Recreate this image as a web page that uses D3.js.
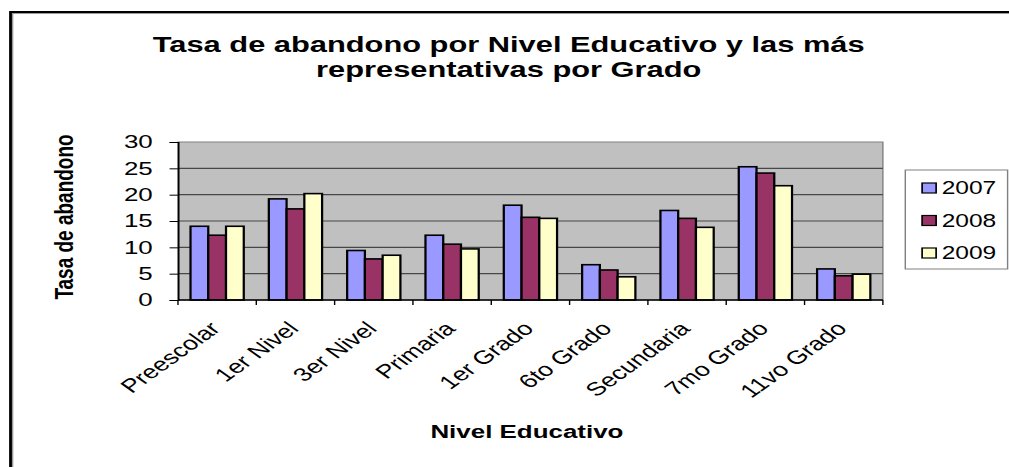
<!DOCTYPE html>
<head>
  <meta charset="utf-8">
  <script src="https://d3js.org/d3.v7.min.js"></script>
  <style>
    body { margin:0; background:#fff; overflow:hidden; }
    svg { display:block; }
    text { font-family: "Liberation Sans", Arial, sans-serif; fill:#000; }
  </style>
</head>
<body>
  <div class="bar-chart"></div>
  <script>
    // data
    const categories = ['Preescolar', '1er Nivel', '3er Nivel', 'Primaria', '1er Grado',
                        '6to Grado', 'Secundaria', '7mo Grado', '11vo Grado'];
    const years = ['2007', '2008', '2009'];
    const values2007 = [14, 19.2, 9.4, 12.3, 18, 6.7, 17, 25.3, 5.9];
    const values2008 = [12.3, 17.3, 7.8, 10.6, 15.7, 5.7, 15.5, 24.1, 4.6];
    const values2009 = [14, 20.2, 8.5, 9.7, 15.5, 4.4, 13.8, 21.7, 4.9];
    const yTicks = [0, 5, 10, 15, 20, 25, 30];
    const colors = ['#9999ff', '#993366', '#ffffcc'];

    const series = [values2007, values2008, values2009];
    const data = categories.map((c, i) => ({
      cat: c,
      vals: years.map((y, j) => ({ year: y, v: series[j][i] }))
    }));

    // the original chart is stretched sideways, so draw in a narrower box
    const W = 720, H = 467;
    const plot = { left: 127, right: 630, top: 142, bottom: 300 };

    const svg = d3.select('.bar-chart')
      .append('svg')
        .attr('width', 1009)
        .attr('height', H)
        .attr('viewBox', `0 0 ${W} ${H}`)
        .attr('preserveAspectRatio', 'none');

    // outer frame (left + top only are visible)
    svg.append('path')
      .attr('d', `M7.6,${H} V12 H${W}`)
      .attr('fill', 'none').attr('stroke', '#000').attr('stroke-width', 2.2);
    svg.append('path')
      .attr('d', `M9,${H} V13.6 H${W}`)
      .attr('fill', 'none').attr('stroke', '#999').attr('stroke-width', 1);

    // title
    const title = svg.append('text')
      .attr('text-anchor', 'middle')
      .style('font-size', '22px').style('font-weight', 'bold');
    title.append('tspan').attr('x', 363).attr('y', 52)
      .text('Tasa de abandono por Nivel Educativo y las más');
    title.append('tspan').attr('x', 363).attr('y', 77)
      .text('representativas por Grado');

    const x = d3.scaleBand()
      .domain(categories)
      .range([plot.left, plot.right]);

    const xInner = d3.scaleBand()
      .domain(years)
      .range([0, x.bandwidth() * 0.68]);
    const groupOffset = (x.bandwidth() - xInner.range()[1]) / 2;

    const y = d3.scaleLinear()
      .domain([0, 30])
      .range([plot.bottom, plot.top]);

    // plot background
    svg.append('rect')
      .attr('x', plot.left).attr('y', plot.top)
      .attr('width', plot.right - plot.left).attr('height', plot.bottom - plot.top)
      .attr('fill', '#c0c0c0')
      .attr('stroke', '#808080').attr('stroke-width', 1);

    // gridlines
    svg.append('g')
      .selectAll('line')
      .data(yTicks.filter(t => t > 0 && t < 30))
      .join('line')
        .attr('x1', plot.left).attr('x2', plot.right)
        .attr('y1', d => y(d)).attr('y2', d => y(d))
        .attr('stroke', '#474747').attr('stroke-width', 1.2);

    // bars
    svg.append('g')
      .selectAll('g')
      .data(data)
      .join('g')
        .attr('transform', d => `translate(${x(d.cat) + groupOffset},0)`)
      .selectAll('rect')
      .data(d => d.vals)
      .join('rect')
        .attr('x', d => xInner(d.year))
        .attr('y', d => y(d.v))
        .attr('width', xInner.bandwidth())
        .attr('height', d => y(0) - y(d.v))
        .attr('fill', (d, i) => colors[i])
        .attr('stroke', '#000')
        .attr('stroke-width', 1.6);

    // y axis
    const yAxis = svg.append('g')
      .attr('transform', `translate(${plot.left},0)`)
      .call(d3.axisLeft(y).tickValues(yTicks).tickSize(6).tickPadding(12));
    yAxis.select('.domain').attr('stroke', '#000').attr('stroke-width', 1.2);
    yAxis.selectAll('.tick line').attr('stroke', '#000');
    yAxis.selectAll('.tick text')
      .style('font-size', '18.5px').style('font-family', '"Liberation Sans", Arial, sans-serif');

    // x axis: ticks sit on the band edges
    const edges = categories.map(c => x(c)).concat([plot.right]);
    svg.append('line')
      .attr('x1', plot.left).attr('x2', plot.right)
      .attr('y1', plot.bottom).attr('y2', plot.bottom)
      .attr('stroke', '#000').attr('stroke-width', 1.4);
    svg.append('g')
      .selectAll('line')
      .data(edges)
      .join('line')
        .attr('x1', d => d).attr('x2', d => d)
        .attr('y1', plot.bottom).attr('y2', plot.bottom + 5)
        .attr('stroke', '#000');

    svg.append('g')
      .selectAll('text')
      .data(categories)
      .join('text')
        .attr('transform', d => `translate(${x(d) + x.bandwidth() / 2 - 1.5},${plot.bottom + 25}) rotate(-45)`)
        .attr('text-anchor', 'end')
        .attr('dy', '0.35em')
        .style('font-size', '19px')
        .text(d => d);

    // axis titles
    svg.append('text')
      .attr('x', 376).attr('y', 438)
      .attr('text-anchor', 'middle')
      .style('font-size', '18.5px').style('font-weight', 'bold')
      .text('Nivel Educativo');

    svg.append('text')
      .attr('transform', 'translate(52,217) rotate(-90)')
      .attr('text-anchor', 'middle')
      .style('font-size', '19px').style('font-weight', 'bold')
      .text('Tasa de abandono');

    // legend
    const legend = svg.append('g');
    legend.append('rect')
      .attr('x', 646).attr('y', 170)
      .attr('width', 73).attr('height', 99)
      .attr('fill', '#fff')
      .attr('stroke', '#808080').attr('stroke-width', 1);

    const item = legend.selectAll('g')
      .data(years)
      .join('g')
        .attr('transform', (d, i) => `translate(658,${188 + i * 32.5})`);
    item.append('rect')
      .attr('x', 0).attr('y', -5)
      .attr('width', 10).attr('height', 10)
      .attr('fill', (d, i) => colors[i])
      .attr('stroke', '#000').attr('stroke-width', 1.2);
    item.append('text')
      .attr('x', 14).attr('dy', '0.35em')
      .style('font-size', '17.5px')
      .text(d => d);
  </script>
</body>
